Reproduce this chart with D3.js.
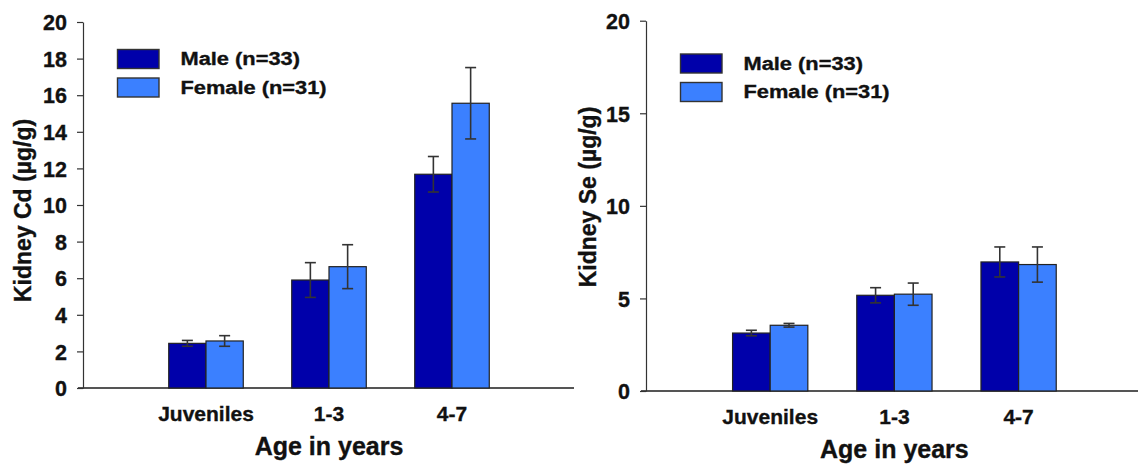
<!DOCTYPE html>
<html>
<head>
<meta charset="utf-8">
<script src="https://cdn.jsdelivr.net/npm/d3@7"></script>
<style>
  body { margin: 0; background: #fff; }
  svg text { font-family: "Liberation Sans", Arial, sans-serif; font-weight: bold; fill: #111; stroke: #111; stroke-width: 0.35px; }
</style>
</head>
<body>
<svg id="chart" width="1138" height="464"></svg>
<script>
// Kidney Cd and Se by age class, male vs female (mean +/- error)

var categories = ["Juveniles", "1-3", "4-7"];
var series = ["Male (n=33)", "Female (n=31)"];
var colors = ["#0000aa", "#3b80ff"];

var cdMale = [2.44, 5.90, 11.68];
var cdMaleErr = [0.16, 0.95, 0.97];
var cdFemale = [2.57, 6.63, 15.56];
var cdFemaleErr = [0.29, 1.20, 1.95];
var cdTicks = [0, 2, 4, 6, 8, 10, 12, 14, 16, 18, 20];

var seMale = [3.13, 5.17, 6.97];
var seMaleErr = [0.15, 0.41, 0.81];
var seFemale = [3.55, 5.23, 6.83];
var seFemaleErr = [0.10, 0.60, 0.95];
var seTicks = [0, 5, 10, 15, 20];

var svg = d3.select("#chart");

///////////////////////////////////////////////////////////////////////////////
// One panel

var drawPanel = function (p) {
  var g = svg.append("g");
  var x = d3.scaleBand().domain(categories)
    .range([p.left + p.step / 2, p.left + p.step / 2 + categories.length * p.step])
    .padding(0);
  var y = d3.scaleLinear().domain([0, 20]).range([p.bottom, p.top]);
  var barW = p.step * 0.303;
  var sub = d3.scaleBand().domain(series)
    .range([x.bandwidth() / 2 - barW, x.bandwidth() / 2 + barW]).padding(0);

  var rows = [];
  categories.forEach(function (c, i) {
    rows.push({cat: c, s: series[0], v: p.male[i], e: p.maleErr[i], color: colors[0]});
    rows.push({cat: c, s: series[1], v: p.female[i], e: p.femaleErr[i], color: colors[1]});
  });

  // baseline, runs well past the last group
  g.append("line")
    .attr("x1", p.left - 5).attr("x2", p.axisEnd)
    .attr("y1", y(0)).attr("y2", y(0))
    .attr("stroke", "#555").attr("stroke-width", 2);

  // y axis
  var yAxis = g.append("g")
    .attr("transform", "translate(" + p.left + ",0)")
    .call(d3.axisLeft(y).tickValues(p.ticks).tickSize(6).tickSizeOuter(0).tickPadding(10));
  yAxis.select(".domain").attr("stroke", "#333").attr("stroke-width", 1.2);
  yAxis.selectAll(".tick line").attr("stroke", "#333").attr("stroke-width", 1.2);
  yAxis.selectAll(".tick text")
    .attr("fill", "#111").style("font-size", "21.5px").attr("dy", "0.36em");

  // bars
  g.selectAll("rect.bar").data(rows).enter().append("rect")
    .attr("class", "bar")
    .attr("x", function (d) { return x(d.cat) + sub(d.s); })
    .attr("y", function (d) { return y(d.v); })
    .attr("width", sub.bandwidth())
    .attr("height", function (d) { return y(0) - y(d.v); })
    .attr("fill", function (d) { return d.color; })
    .attr("stroke", "#222").attr("stroke-width", 1.2);

  // error bars
  var cx = function (d) { return x(d.cat) + sub(d.s) + sub.bandwidth() / 2; };
  var err = g.selectAll("g.err").data(rows).enter().append("g")
    .attr("class", "err").attr("stroke", "#333").attr("stroke-width", 1.6);
  err.append("line")
    .attr("x1", cx).attr("x2", cx)
    .attr("y1", function (d) { return y(d.v + d.e); })
    .attr("y2", function (d) { return y(d.v - d.e); });
  [1, -1].forEach(function (sign) {
    err.append("line")
      .attr("x1", function (d) { return cx(d) - 5.5; })
      .attr("x2", function (d) { return cx(d) + 5.5; })
      .attr("y1", function (d) { return y(d.v + sign * d.e); })
      .attr("y2", function (d) { return y(d.v + sign * d.e); });
  });

  // category labels
  var xAxis = g.append("g")
    .attr("transform", "translate(0," + y(0) + ")")
    .call(d3.axisBottom(x).tickSize(0).tickPadding(18));
  xAxis.select(".domain").remove();
  xAxis.selectAll(".tick text").attr("fill", "#111").style("font-size", "21px");

  g.append("text")
    .attr("x", x("1-3") + x.bandwidth() / 2)
    .attr("y", y(0) + 67)
    .attr("text-anchor", "middle")
    .style("font-size", "25px")
    .text("Age in years");

  g.append("text")
    .attr("transform", "translate(" + p.titleX + "," + p.titleY + ") rotate(-90)")
    .attr("text-anchor", "middle")
    .style("font-size", "23px")
    .text(p.yTitle);

  // legend
  var lg = g.selectAll("g.legend").data(series).enter().append("g")
    .attr("class", "legend")
    .attr("transform", function (d, i) {
      return "translate(" + (p.left + 34.5) + "," + (p.legendTop + i * 28.5) + ")";
    });
  lg.append("rect")
    .attr("width", 41.5).attr("height", 19)
    .attr("fill", function (d, i) { return colors[i]; })
    .attr("stroke", "#333").attr("stroke-width", 1.4);
  lg.append("text")
    .attr("transform", "translate(63,9.5) scale(1.18,1)")
    .attr("dy", "0.35em")
    .style("font-size", "18.5px")
    .text(function (d) { return d; });
};

drawPanel({
  left: 83, top: 22, bottom: 388, step: 123, axisEnd: 574,
  ticks: cdTicks, male: cdMale, maleErr: cdMaleErr,
  female: cdFemale, femaleErr: cdFemaleErr,
  yTitle: "Kidney Cd (µg/g)", titleX: 31, titleY: 210.5, legendTop: 49.5
});

drawPanel({
  left: 646, top: 20.7, bottom: 391, step: 124.2, axisEnd: 1138,
  ticks: seTicks, male: seMale, maleErr: seMaleErr,
  female: seFemale, femaleErr: seFemaleErr,
  yTitle: "Kidney Se (µg/g)", titleX: 596, titleY: 197, legendTop: 54
});
</script>
</body>
</html>
